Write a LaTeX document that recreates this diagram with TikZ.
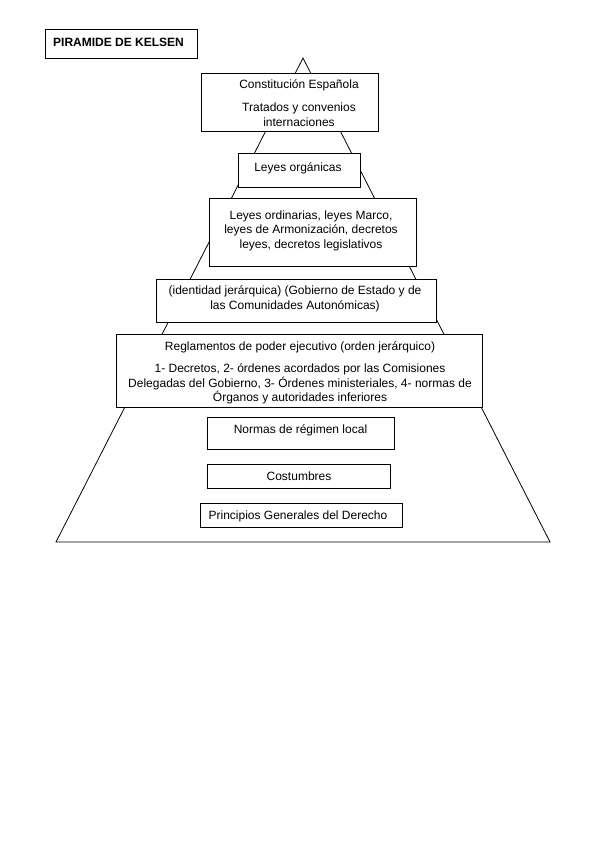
\documentclass[tikz,border=0pt]{standalone}
\usepackage{fontspec}
\setmainfont{Liberation Sans}
\begin{document}
\begin{tikzpicture}[x=1pt,y=-1pt,
  edge/.style={draw=black,line width=0.8pt},
  boxx/.style={draw=black,fill=white,line width=0.9pt},
  txt/.style={anchor=base,align=center,inner sep=0pt,font=\fontsize{12}{14.5}\selectfont},
  ttl/.style={anchor=base west,inner sep=0pt,font=\fontsize{12}{14.5}\selectfont\bfseries}]
\useasboundingbox (0,0) rectangle (599,848);
% pyramid
\coordinate (apex) at (303,58);
\coordinate (bl) at (56,542);
\coordinate (br) at (550,542);
\draw[edge] (bl) -- (apex) -- (br) -- cycle;
% title
\draw[boxx] (45,29) rectangle (197,58);
\node[ttl] (title) at (53,47) {PIRAMIDE DE KELSEN};
% boxes (base anchor = baseline of last line)
\draw[boxx] (201,73) rectangle (378,131);
\node[txt] (t1) at (299,126) {Constitución Española\\[8.5pt]Tratados y convenios\\internaciones};
\draw[boxx] (238,153) rectangle (360,187);
\node[txt] (t2) at (298,171) {Leyes orgánicas};
\draw[boxx] (209,198) rectangle (416,266);
\node[txt] (t3) at (311,248) {Leyes ordinarias, leyes Marco,\\leyes de Armonización, decretos\\leyes, decretos legislativos};
\draw[boxx] (156,279) rectangle (436,322);
\node[txt] (t4) at (295,309) {(identidad jerárquica) (Gobierno de Estado y de\\las Comunidades Autonómicas)};
\draw[boxx] (116,334) rectangle (482,407);
\node[txt] (t5) at (300,401.5) {Reglamentos de poder ejecutivo (orden jerárquico)\\[7.5pt]1- Decretos, 2- órdenes acordados por las Comisiones\\Delegadas del Gobierno, 3- Órdenes ministeriales, 4- normas de\\Órganos y autoridades inferiores};
\draw[boxx] (207,417) rectangle (394,449);
\node[txt] (t6) at (300.5,433) {Normas de régimen local};
\draw[boxx] (207,464) rectangle (390,488);
\node[txt] (t7) at (299,480) {Costumbres};
\draw[boxx] (200,503) rectangle (402,527);
\node[txt] (t8) at (298,519) {Principios Generales del Derecho};
\end{tikzpicture}
\end{document}
